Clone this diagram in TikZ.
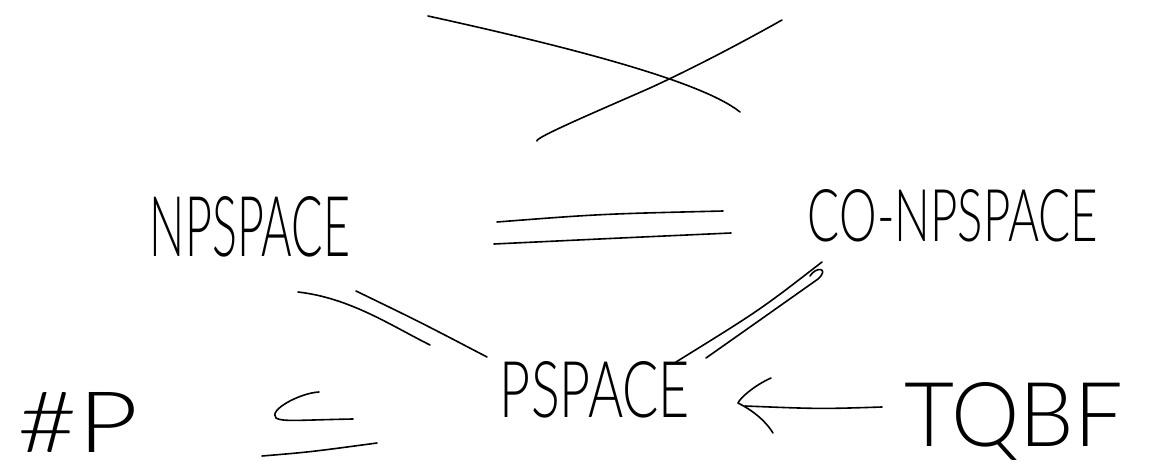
\documentclass[tikz,border=0pt]{standalone}
\usepackage{fontspec}
\usepackage{graphicx}
\newfontfamily\hand{Lato Light}
\begin{document}
\begin{tikzpicture}[x=1pt,y=-1pt,
  stroke/.style={line width=1.6pt, line cap=round, line join=round},
  lbl/.style={inner sep=0pt, font=\hand}]
\useasboundingbox (0,0) rectangle (1160,471);
% labels
\node[lbl] (np)   at (250,227) {\resizebox{200pt}{60pt}{NPSPACE}};
\node[lbl] (conp) at (953,216) {\resizebox{290pt}{52pt}{CO-NPSPACE}};
\node[lbl] (ps)   at (595,390) {\resizebox{190pt}{56pt}{PSPACE}};
\node[lbl] (tq)   at (1014,421) {\resizebox{218pt}{64pt}{TQBF}};
\node[lbl] (sp)   at (78,422) {\resizebox{120pt}{60pt}{\#P}};
% top cross
\draw[stroke] (428,16) .. controls (560,45) and (700,80) .. (740,112);
\draw[stroke] (537,141) .. controls (534,138) and (600,110) .. (650,88) .. controls (700,65) and (750,38) .. (782,20);
% = between NPSPACE and CO-NPSPACE
\coordinate (e1) at (497,222); \coordinate (e2) at (723,211);
\coordinate (e3) at (494,244); \coordinate (e4) at (731,233);
\draw[stroke] (e1) .. controls (600,214) .. (e2);
\draw[stroke] (e3) .. controls (620,238) .. (e4);
% double line NPSPACE - PSPACE
\coordinate (a1) at (298,292); \coordinate (a2) at (430,345);
\coordinate (a3) at (356,291); \coordinate (a4) at (487,357);
\draw[stroke] (a1) .. controls (350,298) and (390,325) .. (a2);
\draw[stroke] (a3) .. controls (420,322) .. (a4);
% double line CO-NPSPACE - PSPACE
\coordinate (b1) at (822,262); \coordinate (b2) at (676,362);
\coordinate (b3) at (810,276); \coordinate (b4) at (706,358);
\draw[stroke] (b1) .. controls (760,310) .. (b2);
\draw[stroke] (b3) .. controls (816,266) and (830,268) .. (818,279) .. controls (760,320) .. (b4);
% TQBF -> PSPACE arrow
\coordinate (t1) at (882,407); \coordinate (t2) at (745,406);
\draw[stroke] (t1) .. controls (820,409) .. (t2);
\coordinate (h1) at (771,378); \coordinate (h0) at (738,403); \coordinate (h2) at (773,433);
\draw[stroke] (h1) .. controls (755,385) and (740,398) .. (h0) .. controls (752,410) and (765,420) .. (h2);
% subseteq
\coordinate (s1) at (319,392); \coordinate (s2) at (353,419);
\coordinate (s3) at (262,456); \coordinate (s4) at (377,443);
\draw[stroke] (s1) .. controls (300,393) and (268,410) .. (276,418) .. controls (282,422) and (300,420) .. (s2);
\draw[stroke] (s3) .. controls (310,452) .. (s4);
\end{tikzpicture}
\end{document}
